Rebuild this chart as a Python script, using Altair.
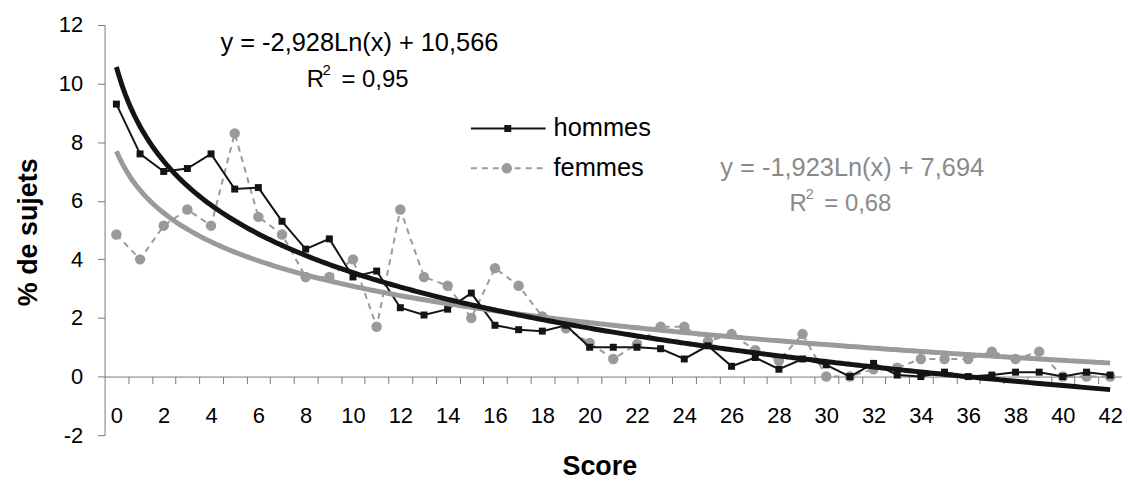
import altair as alt
import pandas as pd

# ---- data ----
scores = list(range(43))
hommes = [9.3, 7.6, 7.0, 7.1, 7.6, 6.4, 6.45, 5.3, 4.35, 4.7,
          3.4, 3.6, 2.35, 2.1, 2.3, 2.85, 1.75, 1.6, 1.55, 1.75,
          1.0, 1.0, 1.0, 0.95, 0.6, 1.05, 0.35, 0.65, 0.25, 0.6,
          0.4, 0.0, 0.45, 0.05, 0.0, 0.15, 0.0, 0.05, 0.15, 0.15,
          0.0, 0.15, 0.05]
femmes = [4.85, 4.0, 5.15, 5.7, 5.15, 8.3, 5.45, 4.85, 3.4, 3.4,
          4.0, 1.7, 5.7, 3.4, 3.1, 2.0, 3.7, 3.1, 2.05, 1.65,
          1.15, 0.6, 1.1, 1.7, 1.7, 1.2, 1.45, 0.9, 0.55, 1.45,
          0.0, 0.0, 0.25, 0.3, 0.6, 0.6, 0.6, 0.85, 0.6, 0.85,
          0.0, 0.0, 0.0]

# trend line coefficients printed on the chart (y = a*Ln(x) + b, x = rank 1..43)
h_a, h_b = -2.928, 10.566
f_a, f_b = -1.923, 7.694

eq_hommes = "y = -2,928Ln(x) + 10,566"
r2_hommes = "= 0,95"
eq_femmes = "y = -1,923Ln(x) + 7,694"
r2_femmes = "= 0,68"
legend_labels = ["hommes", "femmes"]

x_ticks = [i + 0.5 for i in range(43)]
y_ticks = list(range(-2, 13, 2))

df = pd.DataFrame({"score": scores, "hommes": hommes, "femmes": femmes})

FONT = "Liberation Sans"
BLACK = "#141414"
GREY = "#9a9a9a"
GREY_TXT = "#8a8a8a"
W, H = 1022, 412

x_scale = alt.Scale(domain=[-0.5, 42.5], nice=False, zero=False)
y_scale = alt.Scale(domain=[-2, 12], nice=False, zero=False)

x_axis = alt.Axis(
    values=x_ticks, tickSize=7, grid=False,
    labelExpr="(datum.value - 0.5) % 2 == 0 ? toString(datum.value - 0.5) : ''",
    labelOffset=-W / 43 / 2, offset=-2 * H / 14,
    labelBaseline="alphabetic", labelPadding=39, labelFontSize=22,
    labelFlush=False, labelOverlap=False, labelColor="#000",
    title="Score", titleX=497, titleY=98, titleBaseline="alphabetic",
    titleAlign="center", titleFontSize=27, titleFontWeight="bold",
    titleColor="#000",
)
y_axis = alt.Axis(
    values=y_ticks, tickSize=7, grid=False, labelPadding=15,
    labelExpr="toString(datum.value)",
    labelFontSize=22, labelFlush=False, labelColor="#000",
    title="% de sujets", titleX=-68, titleY=207.7, titleAngle=270,
    titleAlign="center", titleBaseline="alphabetic", titleFontSize=27,
    titleFontWeight="bold", titleColor="#000",
)


def X(field):
    return alt.X(f"{field}:Q", scale=x_scale, axis=x_axis)


def Y(field):
    return alt.Y(f"{field}:Q", scale=y_scale, axis=y_axis)


base = alt.Chart(df)

f_line = base.mark_line(color=GREY, strokeWidth=2, strokeDash=[6, 5]).encode(x=X("score"), y=Y("femmes"))
f_pts = base.mark_circle(color=GREY, size=110, opacity=1).encode(x=X("score"), y=Y("femmes"))
h_line = base.mark_line(color=BLACK, strokeWidth=2).encode(x=X("score"), y=Y("hommes"))
h_pts = base.mark_square(color=BLACK, size=49, opacity=1).encode(x=X("score"), y=Y("hommes"))

seq = alt.sequence(1, 43.01, 0.125, as_="idx")
f_fit = alt.Chart(seq).transform_calculate(
    score="datum.idx - 1", fit=f"{f_a} * log(datum.idx) + {f_b}"
).mark_line(color=GREY, strokeWidth=5).encode(x=X("score"), y=Y("fit"))
h_fit = alt.Chart(seq).transform_calculate(
    score="datum.idx - 1", fit=f"{h_a} * log(datum.idx) + {h_b}"
).mark_line(color=BLACK, strokeWidth=5).encode(x=X("score"), y=Y("fit"))

one = alt.Data(values=[{"k": 0}])

# legend
lg_h_rule = alt.Chart(one).mark_rule(color=BLACK, strokeWidth=2).encode(
    x=alt.value(368), x2=alt.value(443), y=alt.value(104))
lg_h_pt = alt.Chart(one).mark_square(color=BLACK, size=49, opacity=1).encode(
    x=alt.value(405), y=alt.value(104))
lg_f_rule = alt.Chart(one).mark_rule(color=GREY, strokeWidth=2, strokeDash=[6, 5]).encode(
    x=alt.value(368), x2=alt.value(443), y=alt.value(144))
lg_f_pt = alt.Chart(one).mark_circle(color=GREY, size=110, opacity=1).encode(
    x=alt.value(404), y=alt.value(144))
lg_h_txt = alt.Chart(one).mark_text(
    text=legend_labels[0], align="left", baseline="alphabetic", fontSize=25.5, font=FONT, color="#000"
).encode(x=alt.value(451), y=alt.value(112))
lg_f_txt = alt.Chart(one).mark_text(
    text=legend_labels[1], align="left", baseline="alphabetic", fontSize=25.5, font=FONT, color="#000"
).encode(x=alt.value(451), y=alt.value(152))


def note(txt, x, y, color, size=25.5, align="center"):
    return alt.Chart(one).mark_text(
        text=txt, align=align, baseline="alphabetic", fontSize=size, font=FONT, color=color
    ).encode(x=alt.value(x), y=alt.value(y))


def r2(value_txt, x, y, color):
    # "R" + superscript "2" + " = value"
    return [
        note("R", x, y, color, 24, "left"),
        note("2", x + 16, y - 12, color, 15, "left"),
        note(value_txt, x + 35, y, color, 24, "left"),
    ]


notes = [
    note(eq_hommes, 256, 26, "#000"),
    *r2(r2_hommes, 203, 62, "#000"),
    note(eq_femmes, 751, 152, GREY_TXT),
    *r2(r2_femmes, 688, 187, GREY_TXT),
]

chart = alt.layer(
    f_line, f_pts, h_line, h_pts, f_fit, h_fit,
    lg_h_rule, lg_h_pt, lg_f_rule, lg_f_pt, lg_h_txt, lg_f_txt, *notes
).properties(
    width=W, height=H, autosize="none",
    padding={"left": 97, "top": 16, "right": 0, "bottom": 46},
    background="white",
).configure_view(stroke=None).configure_axis(
    labelFont=FONT, titleFont=FONT, domainColor="#7a7a7a", tickColor="#7a7a7a",
    domainWidth=1, tickWidth=1,
)

chart.save("out.html", embed_options={"renderer": "svg", "actions": False})
